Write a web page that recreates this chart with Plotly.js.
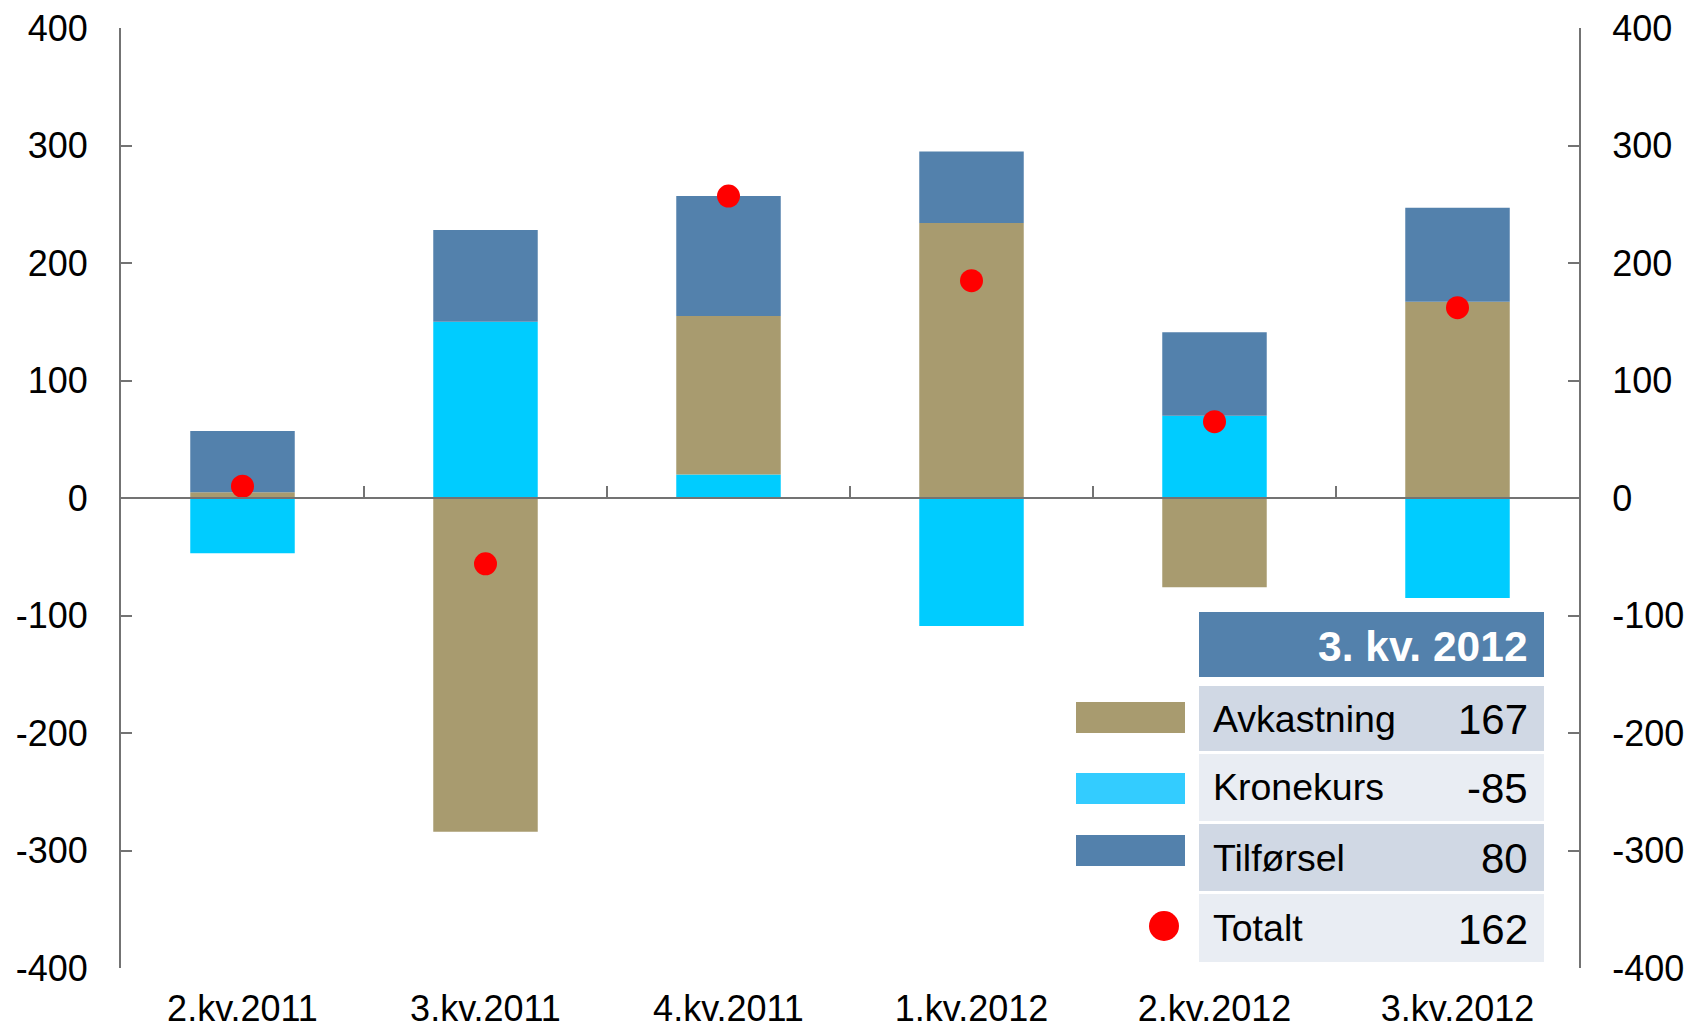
<!DOCTYPE html>
<html>
<head>
<meta charset="utf-8">
<script src="https://cdn.plot.ly/plotly-3.0.1.min.js"></script>
<style>html,body{margin:0;padding:0;background:#fff;}#chart{width:1691px;height:1029px;}</style>
</head>
<body>
<div id="chart"></div>
<script>
// ---- data ----
const categories = ['2.kv.2011', '3.kv.2011', '4.kv.2011', '1.kv.2012', '2.kv.2012', '3.kv.2012'];
const avkastning = [5, -284, 135, 234, -76, 167];
const kronekurs  = [-47, 150, 20, -109, 70, -85];
const tilforsel  = [52, 78, 102, 61, 71, 80];
const totalt     = [10, -56, 257, 185, 65, 162];
const seriesNames = ['Avkastning', 'Kronekurs', 'Tilførsel', 'Totalt'];
const tableTitle = '3. kv. 2012';
const yTicks = [-400, -300, -200, -100, 0, 100, 200, 300, 400];

// ---- styling ----
const FONT = 'Liberation Sans, Arial, sans-serif';
const AX = '#737373';
const C_AVK = '#A89B6F', C_KRO = '#00CCFF', C_TIL = '#5381AC', C_TOT = '#FF0000';
const C_KRO_LEG = '#33CCFF';

const traces = [
  {type: 'bar', name: seriesNames[1], x: categories, y: kronekurs, marker: {color: C_KRO, line: {width: 0}}, hoverinfo: 'skip'},
  {type: 'bar', name: seriesNames[0], x: categories, y: avkastning, marker: {color: C_AVK, line: {width: 0}}, hoverinfo: 'skip'},
  {type: 'bar', name: seriesNames[2], x: categories, y: tilforsel, marker: {color: C_TIL, line: {width: 0}}, hoverinfo: 'skip'},
  // invisible helper so the right-hand axis is drawn
  {type: 'scatter', mode: 'markers', name: '', x: categories, y: totalt, xaxis: 'x', yaxis: 'y2',
   marker: {opacity: 0, size: 1}, hoverinfo: 'skip'},
  {type: 'scatter', mode: 'markers', name: seriesNames[3], x: categories, y: totalt, xaxis: 'x2', yaxis: 'y',
   marker: {color: C_TOT, size: 23, line: {width: 0}}, hoverinfo: 'skip'}
];

// pixel -> paper helpers for the table decoration
const L = 121, R = 1579, T = 28, B = 968;
const px = x => (x - L) / (R - L);
const py = y => (B - y) / (B - T);

const shapes = [];
const annotations = [];
function rect(x0, y0, x1, y1, color) {
  shapes.push({type: 'rect', xref: 'paper', yref: 'paper', x0: px(x0), x1: px(x1), y0: py(y1), y1: py(y0),
               fillcolor: color, line: {width: 0}, layer: 'above'});
}
function text(x, y, s, anchor, size, color) {
  annotations.push({xref: 'paper', yref: 'paper', x: px(x), y: py(y), text: s, showarrow: false,
    xanchor: anchor, yanchor: 'middle', borderpad: 0,
    font: {family: FONT, size: size, color: color || '#000'}});
}

// header
rect(1199, 612, 1544, 677, C_TIL);
text(1529, 646, '<b>' + tableTitle + '</b>', 'right', 42.5, '#fff');
// rows
const rowsY = [[686, 751], [754, 821], [824, 891], [894, 962]];
const rowFill = ['#D0D8E4', '#E9EDF3', '#D0D8E4', '#E9EDF3'];
const last = categories.length - 1;
const rowVals = [avkastning[last], kronekurs[last], tilforsel[last], totalt[last]];
rowsY.forEach((r, i) => {
  rect(1199, r[0], 1544, r[1], rowFill[i]);
  const cy = (r[0] + r[1]) / 2;
  text(1212, cy, seriesNames[i], 'left', 37.5);
  text(1529, cy + 1, String(rowVals[i]), 'right', 42);
});
// legend swatches
rect(1076, 702, 1185, 733, C_AVK);
rect(1076, 773, 1185, 804, C_KRO_LEG);
rect(1076, 835, 1185, 866, C_TIL);
shapes.push({type: 'circle', xref: 'paper', yref: 'paper', x0: px(1149), x1: px(1179), y0: py(941), y1: py(911),
             fillcolor: C_TOT, line: {width: 0}, layer: 'above'});

const yAxisCommon = {
  range: [-400, 400], tickmode: 'array', tickvals: yTicks, ticktext: yTicks.map(String),
  ticks: 'inside', ticklen: 11, tickwidth: 2, tickcolor: AX,
  showline: true, linecolor: AX, linewidth: 2, showgrid: false, zeroline: false,
  tickfont: {family: FONT, size: 36, color: '#000'}, ticklabelstandoff: 24, fixedrange: true
};

const layout = {
  width: 1691, height: 1029,
  margin: {l: 121, r: 112, t: 28, b: 61, pad: 0},
  paper_bgcolor: '#fff', plot_bgcolor: '#fff',
  barmode: 'relative', bargap: 0.57,
  showlegend: false,
  font: {family: FONT, size: 36, color: '#000'},
  xaxis: {type: 'category', categoryorder: 'array', categoryarray: categories, range: [-0.5, 5.5],
          showline: false, ticks: '', showgrid: false, zeroline: false,
          tickfont: {family: FONT, size: 36, color: '#000'}, ticklabelstandoff: 16, fixedrange: true},
  xaxis2: {type: 'category', categoryorder: 'array', categoryarray: categories, range: [-0.5, 5.5],
           overlaying: 'x', anchor: 'free', position: 0.5,
           showline: true, linecolor: AX, linewidth: 2,
           ticks: 'inside', tickson: 'boundaries', ticklen: 11, tickwidth: 2, tickcolor: AX,
           showticklabels: false, showgrid: false, zeroline: false, fixedrange: true},
  yaxis: Object.assign({}, yAxisCommon, {side: 'left'}),
  yaxis2: Object.assign({}, yAxisCommon, {side: 'right', overlaying: 'y', anchor: 'x'}),
  shapes: shapes,
  annotations: annotations
};

Plotly.newPlot('chart', traces, layout, {displayModeBar: false, staticPlot: true});
</script>
</body>
</html>
